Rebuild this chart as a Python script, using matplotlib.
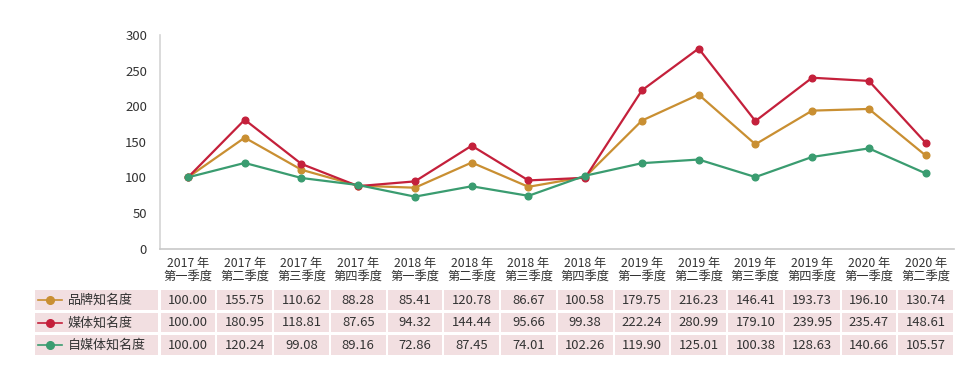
import matplotlib
matplotlib.use('Agg')
import matplotlib.pyplot as plt
from matplotlib.patches import Rectangle
from matplotlib.lines import Line2D

plt.rcParams['font.family'] = ['Noto Sans CJK SC', 'DejaVu Sans']

# 데이터
quarters = ['2017 年\n第一季度', '2017 年\n第二季度', '2017 年\n第三季度', '2017 年\n第四季度',
            '2018 年\n第一季度', '2018 年\n第二季度', '2018 年\n第三季度', '2018 年\n第四季度',
            '2019 年\n第一季度', '2019 年\n第二季度', '2019 年\n第三季度', '2019 年\n第四季度',
            '2020 年\n第一季度', '2020 年\n第二季度']
series_names = ['品牌知名度', '媒体知名度', '自媒体知名度']
brand = [100.00, 155.75, 110.62, 88.28, 85.41, 120.78, 86.67, 100.58,
         179.75, 216.23, 146.41, 193.73, 196.10, 130.74]
media = [100.00, 180.95, 118.81, 87.65, 94.32, 144.44, 95.66, 99.38,
         222.24, 280.99, 179.10, 239.95, 235.47, 148.61]
selfmedia = [100.00, 120.24, 99.08, 89.16, 72.86, 87.45, 74.01, 102.26,
             119.90, 125.01, 100.38, 128.63, 140.66, 105.57]
colors = ['#c98f32', '#c4203b', '#3a9c70']
yticks = [0, 50, 100, 150, 200, 250, 300]

W, H = 974, 373
fig = plt.figure(figsize=(W / 100, H / 100), dpi=100)

# 그래프 영역 (픽셀 기준)
left_px, right_px, top_px, bottom_px = 159.6, 954, 35, 248.5
ax = fig.add_axes([left_px / W, 1 - bottom_px / H,
                   (right_px - left_px) / W, (bottom_px - top_px) / H])
x = list(range(len(quarters)))
for vals, c in zip([brand, media, selfmedia], colors):
    ax.plot(x, vals, color=c, lw=1.6, marker='o', ms=4.8, solid_joinstyle='round')

ax.set_xlim(-0.5, len(quarters) - 0.5)
ax.set_ylim(0, 300)
ax.set_yticks(yticks)
ax.set_xticks(x)
ax.set_xticklabels(quarters, fontsize=8.8, color='#333333', linespacing=1.1)
ax.tick_params(axis='y', length=0, pad=9, labelsize=9.5, labelcolor='#333333')
ax.tick_params(axis='x', length=0, pad=6)
for s in ['top', 'right']:
    ax.spines[s].set_visible(False)
ax.spines['left'].set_color('#d4d4d4')
ax.spines['bottom'].set_color('#c8c8c8')
ax.spines['left'].set_linewidth(1.2)
ax.spines['bottom'].set_linewidth(1.2)

# 표 영역
tab_top, tab_bot = 289, 356
tab = fig.add_axes([left_px / W, 1 - tab_bot / H,
                    (right_px - left_px) / W, (tab_bot - tab_top) / H])
tab.set_xlim(-0.5, len(quarters) - 0.5)
tab.set_ylim(3, 0)
tab.axis('off')

unit = (right_px - left_px) / len(quarters)
def px2x(px):
    return (px - left_px) / unit - 0.5

gx = 1.0 / unit
gy = 0.06
cell_bg = '#f2dfe1'
for r, (name, vals, c) in enumerate(zip(series_names, [brand, media, selfmedia], colors)):
    # 첫 번째 열 (범례)
    x0, x1 = px2x(35), px2x(158)
    tab.add_patch(Rectangle((x0, r + gy), x1 - x0, 1 - 2 * gy, facecolor=cell_bg,
                            edgecolor='none', clip_on=False))
    tab.add_line(Line2D([px2x(38), px2x(62)], [r + 0.5, r + 0.5], color=c, lw=1.2,
                        clip_on=False))
    tab.add_line(Line2D([px2x(50)], [r + 0.5], color=c, marker='o', ms=5.5, clip_on=False))
    tab.text(px2x(68), r + 0.52, name, fontsize=9.4, color='#333333',
             va='center', ha='left', clip_on=False)
    for i, v in enumerate(vals):
        tab.add_patch(Rectangle((i - 0.5 + gx, r + gy), 1 - 2 * gx, 1 - 2 * gy,
                                facecolor=cell_bg, edgecolor='none', clip_on=False))
        tab.text(i, r + 0.52, f'{v:.2f}', fontsize=9.4, color='#333333',
                 ha='center', va='center', clip_on=False)

fig.savefig('out.png', dpi=100)
